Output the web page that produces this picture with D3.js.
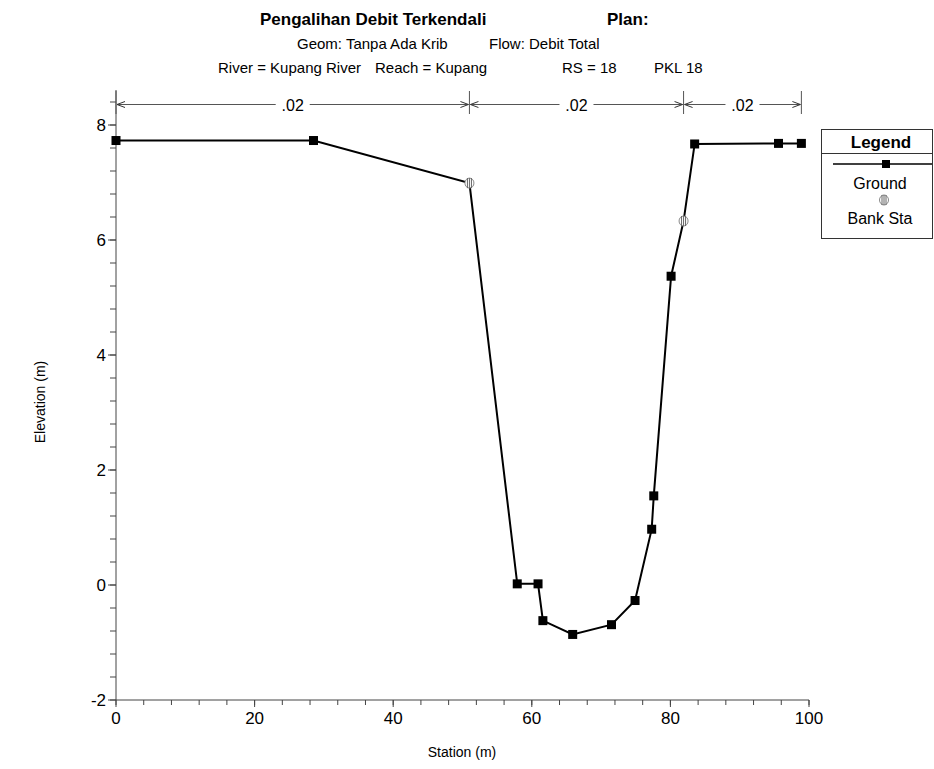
<!DOCTYPE html>
<html>
<head>
<meta charset="utf-8">
<script src="https://cdn.jsdelivr.net/npm/d3@7"></script>
<style>
  html, body { margin: 0; padding: 0; background: #fff; }
  svg { display: block; font-family: Arial, "Liberation Sans", sans-serif; }
</style>
</head>
<body>
<svg id="chart" width="934" height="769"></svg>
<script>
// ---- data ----
const stations   = [0, 28.5, 51.0, 57.9, 60.9, 61.6, 65.9, 71.5, 74.9, 77.3, 77.6, 80.1, 81.9, 83.5, 95.6, 98.9];
const elevations = [7.73, 7.73, 6.99, 0.02, 0.02, -0.62, -0.86, -0.69, -0.27, 0.97, 1.55, 5.37, 6.33, 7.67, 7.68, 7.68];
const bankStations   = [51.0, 81.9];
const bankElevations = [6.99, 6.33];
const nBreaks = [0, 51.0, 81.9, 98.9];
const nValues = [".02", ".02", ".02"];
const xTicks = [0, 20, 40, 60, 80, 100];
const yTicks = [-2, 0, 2, 4, 6, 8];
const titleLines = [
  ["Pengalihan Debit Terkendali", "Plan:"],
  ["Geom: Tanpa Ada Krib", "Flow: Debit Total"],
  ["River = Kupang River", "Reach = Kupang", "RS = 18", "PKL 18"]
];

// ---- layout ----
const svg = d3.select("#chart");
const x = d3.scaleLinear().domain([0, 100]).range([116, 809]);
const y = d3.scaleLinear().domain([-2, 8]).range([700, 125]);
const yTop = 90;
const axisColor = "#444";

// titles
const t1 = svg.append("g").attr("font-size", 17).attr("font-weight", "bold").attr("fill", "#000");
t1.append("text").attr("x", 260).attr("y", 25).text(titleLines[0][0]);
t1.append("text").attr("x", 607).attr("y", 25).text(titleLines[0][1]);
const t2 = svg.append("g").attr("font-size", 15).attr("fill", "#000");
t2.append("text").attr("x", 297).attr("y", 49).text(titleLines[1][0]);
t2.append("text").attr("x", 489).attr("y", 49).text(titleLines[1][1]);
const t3 = svg.append("g").attr("font-size", 15).attr("fill", "#000");
const t3x = [218, 375, 562, 654];
titleLines[2].forEach((s, i) => t3.append("text").attr("x", t3x[i]).attr("y", 73).text(s));

// y axis
const yAxisG = svg.append("g");
yAxisG.append("line").attr("x1", x(0)).attr("x2", x(0)).attr("y1", y(-2)).attr("y2", yTop)
  .attr("stroke", axisColor).attr("stroke-width", 1);
const yMinor = d3.range(-2, 8.41, 0.4).map(v => +v.toFixed(2));
yAxisG.selectAll("line.minor").data(yMinor).join("line").attr("class", "minor")
  .attr("x1", x(0) - 6).attr("x2", x(0)).attr("y1", d => y(d)).attr("y2", d => y(d))
  .attr("stroke", axisColor);
yAxisG.selectAll("line.major").data(yTicks).join("line").attr("class", "major")
  .attr("x1", x(0) - 8).attr("x2", x(0)).attr("y1", d => y(d)).attr("y2", d => y(d))
  .attr("stroke", axisColor);
yAxisG.selectAll("text").data(yTicks).join("text")
  .attr("x", x(0) - 10).attr("y", d => y(d) + 6).attr("text-anchor", "end")
  .attr("font-size", 17).text(d => d);

// x axis
const xAxisG = svg.append("g");
xAxisG.append("line").attr("x1", x(0)).attr("x2", x(100)).attr("y1", y(-2)).attr("y2", y(-2))
  .attr("stroke", axisColor);
const xMinor = d3.range(0, 100.1, 4);
xAxisG.selectAll("line.minor").data(xMinor).join("line").attr("class", "minor")
  .attr("x1", d => x(d)).attr("x2", d => x(d)).attr("y1", y(-2)).attr("y2", y(-2) + 5)
  .attr("stroke", axisColor);
xAxisG.selectAll("line.major").data(xTicks).join("line").attr("class", "major")
  .attr("x1", d => x(d)).attr("x2", d => x(d)).attr("y1", y(-2)).attr("y2", y(-2) + 7)
  .attr("stroke", axisColor);
xAxisG.selectAll("text").data(xTicks).join("text")
  .attr("x", d => x(d)).attr("y", y(-2) + 24).attr("text-anchor", "middle")
  .attr("font-size", 17).text(d => d);

// axis titles
svg.append("text").attr("x", 462).attr("y", 757).attr("text-anchor", "middle")
  .attr("font-size", 14).text("Station (m)");
svg.append("text").attr("transform", "translate(45,402) rotate(-90)").attr("text-anchor", "middle")
  .attr("font-size", 14).text("Elevation (m)");

// Manning's n regions
const nY = 104.5;
const nG = svg.append("g");
nG.selectAll("line.v").data(nBreaks).join("line").attr("class", "v")
  .attr("x1", d => x(d)).attr("x2", d => x(d)).attr("y1", 91).attr("y2", 114)
  .attr("stroke", "#555");
nValues.forEach((lab, i) => {
  const a = x(nBreaks[i]), b = x(nBreaks[i + 1]);
  const m = (a + b) / 2;
  const half = 17;
  nG.append("line").attr("x1", a + 1).attr("x2", m - half).attr("y1", nY).attr("y2", nY).attr("stroke", "#555");
  nG.append("line").attr("x1", m + half).attr("x2", b - 1).attr("y1", nY).attr("y2", nY).attr("stroke", "#555");
  nG.append("path").attr("d", `M${a + 9},${nY - 3} L${a + 1},${nY} L${a + 9},${nY + 3}`)
    .attr("fill", "none").attr("stroke", "#333");
  nG.append("path").attr("d", `M${b - 9},${nY - 3} L${b - 1},${nY} L${b - 9},${nY + 3}`)
    .attr("fill", "none").attr("stroke", "#333");
  nG.append("text").attr("x", m).attr("y", nY + 6).attr("text-anchor", "middle")
    .attr("font-size", 16).text(lab);
});

// ground line
const pts = stations.map((s, i) => [s, elevations[i]]);
svg.append("path").datum(pts)
  .attr("d", d3.line().x(d => x(d[0])).y(d => y(d[1])))
  .attr("fill", "none").attr("stroke", "#000").attr("stroke-width", 2);
const groundMarks = pts.filter(p => !bankStations.includes(p[0]));
svg.selectAll("rect.gm").data(groundMarks).join("rect").attr("class", "gm")
  .attr("x", d => x(d[0]) - 4.5).attr("y", d => y(d[1]) - 4.5)
  .attr("width", 9).attr("height", 9).attr("fill", "#000");

// bank station markers
function bankMarker(g, cx, cy) {
  g.append("ellipse").attr("cx", cx).attr("cy", cy).attr("rx", 4.5).attr("ry", 5)
    .attr("fill", "#fff").attr("stroke", "#888").attr("stroke-width", 1);
  [-2, 0, 2].forEach(dx => g.append("line").attr("x1", cx + dx).attr("x2", cx + dx)
    .attr("y1", cy - 5).attr("y2", cy + 5).attr("stroke", "#666").attr("stroke-width", 1));
}
const bankG = svg.append("g");
bankStations.forEach((s, i) => bankMarker(bankG, x(s), y(bankElevations[i])));

// legend
const lg = svg.append("g");
lg.append("rect").attr("x", 821.5).attr("y", 129.5).attr("width", 111).attr("height", 109)
  .attr("fill", "#fff").attr("stroke", "#333");
lg.append("line").attr("x1", 821.5).attr("x2", 932.5).attr("y1", 153.5).attr("y2", 153.5).attr("stroke", "#333");
lg.append("text").attr("x", 881).attr("y", 148).attr("text-anchor", "middle")
  .attr("font-size", 17).attr("font-weight", "bold").text("Legend");
lg.append("line").attr("x1", 833).attr("x2", 932).attr("y1", 164).attr("y2", 164).attr("stroke", "#000").attr("stroke-width", 1.5);
lg.append("rect").attr("x", 882).attr("y", 160).attr("width", 8).attr("height", 8).attr("fill", "#000");
lg.append("text").attr("x", 880).attr("y", 189).attr("text-anchor", "middle").attr("font-size", 16).text("Ground");
bankMarker(lg, 884, 200);
lg.append("text").attr("x", 880).attr("y", 224).attr("text-anchor", "middle").attr("font-size", 16).text("Bank Sta");
</script>
</body>
</html>
